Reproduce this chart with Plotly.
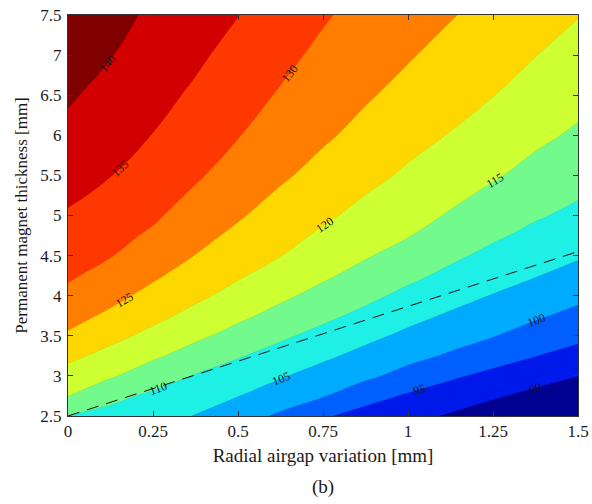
import plotly.graph_objects as go

# Radial airgap variation [mm] (columns) and permanent magnet thickness [mm] (rows)
airgap = [0, 0.125, 0.25, 0.375, 0.5, 0.625, 0.75, 0.875, 1.0, 1.125, 1.25, 1.375, 1.5]
thickness = [2.5, 2.75, 3.0, 3.25, 3.5, 3.75, 4.0, 4.25, 4.5, 4.75, 5.0,
             5.5, 6.0, 6.5, 7.0, 7.5]

# Response map, one row per magnet thickness
response = [
    [109.8, 108.4, 106.8, 104.8, 102.2, 99.2, 95.6, 93.1, 91.4, 89.5, 87.5, 85.5, 83.4],
    [115.1, 111.3, 109.1, 107.3, 105.1, 102.7, 100.3, 96.9, 94.4, 92.6, 90.6, 88.7, 86.7],
    [118.1, 115.5, 112.3, 109.7, 107.7, 105.4, 103.1, 101.0, 98.3, 95.7, 93.8, 91.9, 90.1],
    [121.2, 118.5, 115.8, 112.9, 110.4, 108.1, 105.9, 103.6, 101.5, 99.4, 97.0, 95.1, 93.3],
    [124.4, 121.4, 118.7, 116.0, 113.3, 110.8, 108.5, 106.2, 104.0, 102.0, 100.2, 98.0, 96.2],
    [126.7, 124.1, 121.3, 118.6, 116.0, 113.5, 111.1, 108.8, 106.4, 104.4, 102.5, 100.6, 98.7],
    [128.9, 126.4, 123.6, 121.0, 118.4, 115.9, 113.5, 111.2, 108.8, 106.7, 104.8, 103.0, 101.1],
    [130.6, 128.4, 125.7, 122.9, 120.5, 118.0, 115.7, 113.4, 111.1, 108.9, 106.8, 105.2, 103.4],
    [132.0, 130.2, 127.5, 124.9, 122.3, 120.1, 117.5, 115.4, 113.2, 110.9, 108.8, 107.0, 105.5],
    [133.3, 131.4, 129.3, 126.4, 124.0, 121.5, 119.3, 117.0, 115.2, 112.8, 110.7, 108.8, 107.2],
    [134.6, 132.6, 130.7, 127.9, 125.5, 123.0, 120.8, 118.6, 116.6, 114.6, 112.3, 110.5, 108.9],
    [136.7, 135.1, 132.8, 130.6, 127.9, 125.7, 123.4, 121.3, 119.3, 117.3, 115.5, 113.5, 111.8],
    [138.8, 136.7, 134.9, 132.4, 130.2, 127.6, 125.7, 123.6, 121.5, 119.8, 117.8, 116.0, 114.3],
    [140.6, 138.4, 136.4, 134.3, 131.8, 129.6, 127.3, 125.5, 123.6, 121.7, 120.1, 118.1, 116.4],
    [142.3, 140.2, 137.7, 135.8, 133.5, 131.2, 129.0, 127.0, 125.4, 123.5, 121.8, 120.1, 118.2],
    [143.9, 141.7, 139.1, 137.0, 135.1, 132.6, 130.5, 128.4, 126.7, 125.3, 123.5, 121.6, 120.2],
]

# Contour levels
level_start, level_end, level_step = 90, 140, 5

# One fill colour per band, lowest band first
band_colors = ["#000091", "#0019EB", "#005FFF", "#00AAFF", "#1EF0E6",
               "#73FA8C", "#CDFF32", "#FFD700", "#FF7D00", "#FF3700",
               "#D20000", "#800000"]

# Dashed reference line
ref_x = [0, 1.5]
ref_y = [2.5, 4.55]

x_ticks = [0, 0.25, 0.5, 0.75, 1.0, 1.25, 1.5]
x_ticktext = ["0", "0.25", "0.5", "0.75", "1", "1.25", "1.5"]
y_ticks = [2.5, 3, 3.5, 4, 4.5, 5, 5.5, 6, 6.5, 7, 7.5]
y_ticktext = ["2.5", "3", "3.5", "4", "4.5", "5", "5.5", "6", "6.5", "7", "7.5"]

n = len(band_colors)
colorscale = [[i / (n - 1), c] for i, c in enumerate(band_colors)]

serif = "Liberation Serif, Times New Roman, serif"
ink = "#1a1a1a"

fig = go.Figure()
fig.add_trace(go.Contour(
    x=airgap, y=thickness, z=response,
    colorscale=colorscale,
    showscale=False,
    contours=dict(start=level_start, end=level_end, size=level_step,
                  coloring="fill", showlabels=True,
                  labelfont=dict(family=serif, size=12, color=ink)),
    line=dict(color="rgba(0,0,0,0.15)", width=0.4, smoothing=1.3),
    hoverinfo="skip",
))
fig.add_trace(go.Scatter(
    x=ref_x, y=ref_y, mode="lines",
    line=dict(color="#111111", width=1, dash="12px,8px"),
    hoverinfo="skip", showlegend=False,
))

axis_common = dict(
    showline=True, linecolor="#333333", linewidth=1, mirror="ticks",
    ticks="inside", ticklen=5, tickcolor="#333333",
    showgrid=False, zeroline=False, automargin=False,
    tickfont=dict(family=serif, size=17, color=ink),
)
fig.update_xaxes(range=[0, 1.5], tickvals=x_ticks, ticktext=x_ticktext,
                 ticklabelstandoff=0,
                 title=dict(text="Radial airgap variation [mm]", standoff=8,
                            font=dict(family=serif, size=19, color=ink)),
                 **axis_common)
fig.update_yaxes(range=[2.5, 7.5], tickvals=y_ticks, ticktext=y_ticktext,
                 ticklabelstandoff=2,
                 title=dict(text="Permanent magnet thickness [mm]", standoff=8,
                            font=dict(family=serif, size=17, color=ink)),
                 **axis_common)

fig.add_annotation(text="(b)", x=0.5, xref="paper", y=-0.177, yref="paper",
                   showarrow=False, yanchor="middle",
                   font=dict(family=serif, size=19, color=ink))

fig.update_layout(
    width=592, height=504,
    margin=dict(l=68, r=14, t=15, b=88),
    paper_bgcolor="white", plot_bgcolor="white",
    showlegend=False,
)

fig.write_html("out.html")
